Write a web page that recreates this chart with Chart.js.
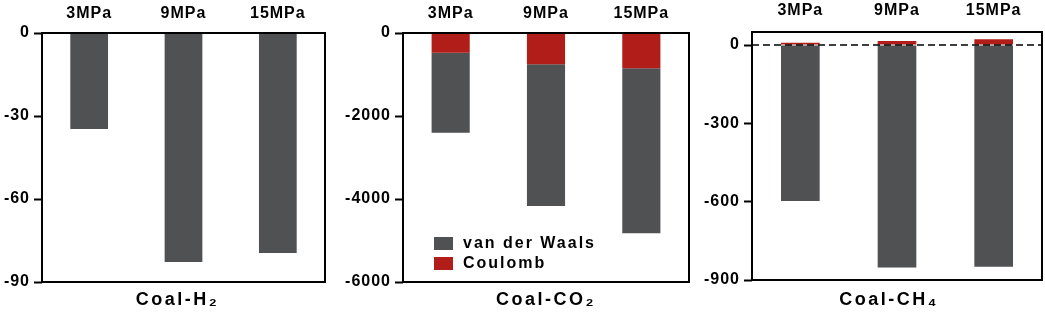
<!DOCTYPE html>
<html>
<head>
<meta charset="UTF-8" />
<title>Coal interaction energies</title>
<script src="https://cdn.jsdelivr.net/npm/chart.js"></script>
<style>
  body { margin: 0; background: #fff; }
  .panel { position: absolute; top: 0; height: 314px; }
</style>
</head>
<body>

<div class="panel" style="left:0; width:335px;"><canvas id="chartH2"></canvas></div>
<div class="panel" style="left:345px; width:350px;"><canvas id="chartCO2"></canvas></div>
<div class="panel" style="left:695px; width:350px;"><canvas id="chartCH4"></canvas></div>

<script>
  // pressures along the top
  const pressures = ['3MPa', '9MPa', '15MPa'];

  // Coal-H2 (only van der Waals visible)
  const h2Vdw = [-34.7, -82.8, -79.5];
  const h2Ticks = [-90, -60, -30, 0];

  // Coal-CO2
  const co2Coulomb = [-475, -755, -851];
  const co2Vdw = [-1927, -3414, -3976];
  const co2Ticks = [-6000, -4000, -2000, 0];

  // Coal-CH4
  const ch4Coulomb = [9, 16, 22];
  const ch4Vdw = [-597, -852, -849];
  const ch4Ticks = [-900, -600, -300, 0];

  const GRAY = '#505153';
  const RED = '#b11d18';

  Chart.defaults.font.family = '"Liberation Sans", Arial, sans-serif';
  Chart.defaults.color = '#000';

  // box, dashed zero line, bottom title and legend
  const framePlugin = {
    id: 'frame',
    beforeDraw(chart) {
      chart.ctx.letterSpacing = '1px';
    },
    afterDatasetsDraw(chart, args, opts) {
      const { ctx, chartArea: a } = chart;
      ctx.save();
      ctx.strokeStyle = '#000';
      if (opts.zeroLine) {
        const y = chart.scales.y.getPixelForValue(0);
        ctx.lineWidth = 1.5;
        ctx.setLineDash([7, 4]);
        ctx.beginPath();
        ctx.moveTo(a.left, y);
        ctx.lineTo(a.right, y);
        ctx.stroke();
        ctx.setLineDash([]);
      }
      ctx.lineWidth = 2;
      ctx.strokeRect(a.left, a.top, a.right - a.left, a.bottom - a.top);
      ctx.restore();
    },
    afterDraw(chart, args, opts) {
      const { ctx, chartArea: a } = chart;
      ctx.save();
      ctx.fillStyle = '#000';
      if (opts.title) {
        ctx.font = 'bold 18px "Liberation Sans", Arial, sans-serif';
        ctx.letterSpacing = '2.5px';
        ctx.textAlign = 'center';
        ctx.textBaseline = 'middle';
        ctx.fillText(opts.title, (a.left + a.right) / 2 + (opts.titleDx || 0), 300);
      }
      if (opts.legend) {
        ctx.font = 'bold 16px "Liberation Sans", Arial, sans-serif';
        ctx.letterSpacing = '2px';
        ctx.textAlign = 'left';
        ctx.textBaseline = 'middle';
        opts.legend.forEach((idx, i) => {
          const ds = chart.data.datasets[idx];
          const y = 237 + i * 20;
          ctx.fillStyle = ds.backgroundColor;
          ctx.fillRect(a.left + 31, y, 19, 13);
          ctx.fillStyle = '#000';
          ctx.fillText(ds.label, a.left + 60, y + 7);
        });
      }
      ctx.restore();
    }
  };

  function makeChart(id, datasets, cfg) {
    return new Chart(document.getElementById(id), {
      type: 'bar',
      data: { labels: pressures, datasets },
      options: {
        responsive: true,
        maintainAspectRatio: false,
        animation: false,
        layout: { padding: { left: 0, top: 0, right: cfg.padRight, bottom: cfg.padBottom } },
        datasets: { bar: { categoryPercentage: 1.0, barPercentage: 0.4, borderWidth: 0 } },
        plugins: {
          legend: { display: false },
          tooltip: { enabled: false },
          frame: { title: cfg.title, titleDx: cfg.titleDx, zeroLine: cfg.zeroLine, legend: cfg.legend }
        },
        scales: {
          x: {
            position: 'top',
            stacked: true,
            grid: { display: false, drawTicks: false },
            border: { display: false },
            ticks: { font: { size: 16, weight: 'bold' }, color: '#000', padding: cfg.xPad },
            afterFit(s) { s.height = cfg.top; }
          },
          y: {
            stacked: true,
            min: cfg.min,
            max: cfg.max,
            ticks: {
              font: { size: 16, weight: 'bold' },
              color: '#000',
              padding: 4,
              callback: v => String(v)
            },
            afterBuildTicks(s) { s.ticks = cfg.ticks.map(v => ({ value: v })); },
            grid: { display: true, drawOnChartArea: false, drawTicks: true, tickLength: 8, tickWidth: 2, tickColor: '#000' },
            border: { display: false },
            afterFit(s) { s.width = cfg.axisWidth; }
          }
        }
      },
      plugins: [framePlugin]
    });
  }

  makeChart('chartH2', [
    { label: 'van der Waals', data: h2Vdw, backgroundColor: GRAY }
  ], { title: 'Coal-H\u2082', titleDx: -6, min: -90, max: 0, ticks: h2Ticks, axisWidth: 42, top: 33, padRight: 10, padBottom: 32, xPad: 10 });

  makeChart('chartCO2', [
    { label: 'Coulomb', data: co2Coulomb, backgroundColor: RED },
    { label: 'van der Waals', data: co2Vdw, backgroundColor: GRAY }
  ], { title: 'Coal-CO\u2082', titleDx: 0, min: -6000, max: 0, ticks: co2Ticks, axisWidth: 58, top: 33, padRight: 6, padBottom: 32, xPad: 10, legend: [1, 0] });

  makeChart('chartCH4', [
    { label: 'Coulomb', data: ch4Coulomb, backgroundColor: RED },
    { label: 'van der Waals', data: ch4Vdw, backgroundColor: GRAY }
  ], { title: 'Coal-CH\u2084', titleDx: -8, min: -900, max: 50, ticks: ch4Ticks, axisWidth: 57, top: 32, padRight: 3, padBottom: 34, xPad: 12, zeroLine: true });
</script>

</body>
</html>
